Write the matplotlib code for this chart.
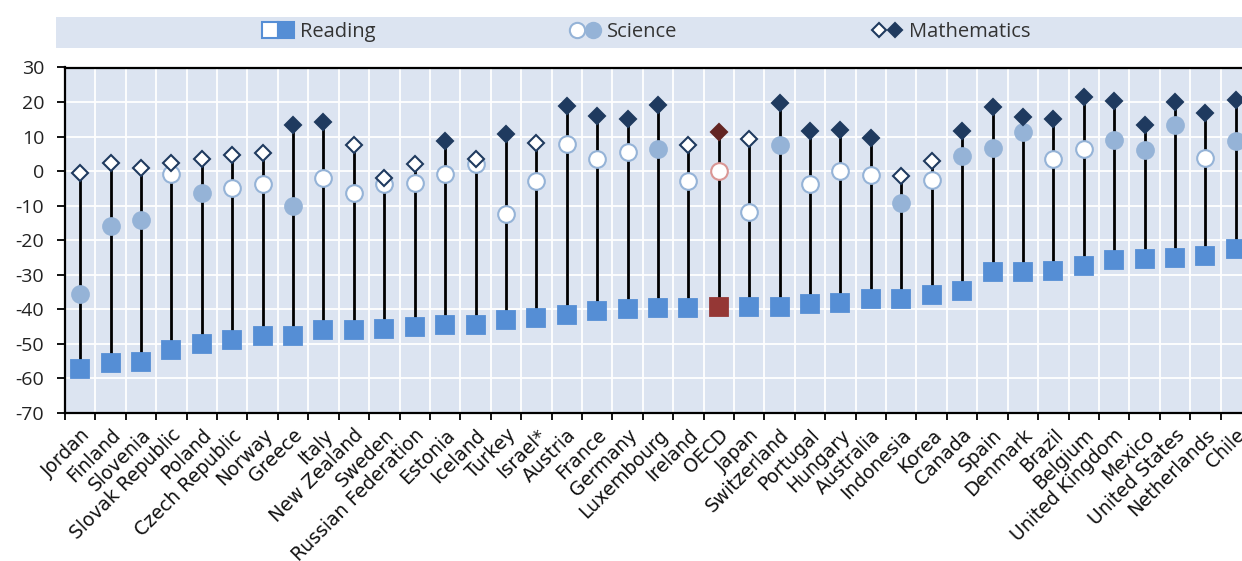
import numpy as np
import matplotlib
matplotlib.use("Agg")
import matplotlib.pyplot as plt
from matplotlib.lines import Line2D
from matplotlib.patches import Rectangle
from matplotlib.legend_handler import HandlerTuple

plt.rcParams["font.family"] = ["Open Sans", "DejaVu Sans"]
plt.rcParams["axes.unicode_minus"] = False
plt.rcParams["text.color"] = "#333333"

countries = [
    "Jordan", "Finland", "Slovenia", "Slovak Republic", "Poland", "Czech Republic",
    "Norway", "Greece", "Italy", "New Zealand", "Sweden", "Russian Federation",
    "Estonia", "Iceland", "Turkey", "Israel*", "Austria", "France", "Germany",
    "Luxembourg", "Ireland", "OECD", "Japan", "Switzerland", "Portugal", "Hungary",
    "Australia", "Indonesia", "Korea", "Canada", "Spain", "Denmark", "Brazil",
    "Belgium", "United Kingdom", "Mexico", "United States", "Netherlands", "Chile",
]
reading = [
    -57.3, -55.6, -55.2, -51.7, -50.1, -48.8, -47.7, -47.6, -46.1, -46.0, -45.8, -45.0,
    -44.5, -44.5, -43.1, -42.5, -41.5, -40.4, -40.0, -39.6, -39.5, -39.2, -39.3, -39.2,
    -38.4, -38.2, -37.0, -36.9, -35.9, -34.6, -29.3, -29.1, -28.9, -27.5, -25.6, -25.3,
    -25.1, -24.7, -22.4,
]
science = [
    -35.5, -15.9, -14.2, -0.7, -6.3, -4.9, -3.6, -10.1, -2.0, -6.4, -3.8, -3.3,
    -0.7, 2.0, -12.3, -2.8, 8.0, 3.4, 5.4, 6.5, -2.8, 0.0, -11.8, 7.5,
    -3.6, 0.0, -1.0, -9.2, -2.6, 4.3, 6.8, 11.2, 3.4, 6.4, 9.1, 6.2,
    13.3, 3.8, 8.7,
]
math = [
    -0.6, 2.5, 1.0, 2.5, 3.6, 4.6, 5.2, 13.4, 14.3, 7.6, -2.1, 2.0,
    8.6, 3.6, 10.7, 8.1, 18.9, 15.9, 15.2, 19.1, 7.6, 11.4, 9.3, 19.6,
    11.6, 11.9, 9.5, -1.5, 3.0, 11.7, 18.6, 15.7, 15.2, 21.4, 20.3, 13.3,
    20.1, 16.8, 20.6,
]
# 1 = statistically significant (filled marker), 0 = not significant (hollow)
science_sig = [
    1, 1, 1, 0, 1, 0, 0, 1, 0, 0, 0, 0,
    0, 0, 0, 0, 0, 0, 0, 1, 0, 0, 0, 1,
    0, 0, 0, 1, 0, 1, 1, 1, 0, 0, 1, 1,
    1, 0, 1,
]
math_sig = [
    0, 0, 0, 0, 0, 0, 0, 1, 1, 0, 0, 0,
    1, 0, 1, 0, 1, 1, 1, 1, 0, 1, 0, 1,
    1, 1, 1, 0, 0, 1, 1, 1, 1, 1, 1, 1,
    1, 1, 1,
]

c_read = "#558ED5"
c_sci = "#95B3D7"
c_math = "#1F3A5F"
c_bg = "#DCE4F1"
oecd_read, oecd_sci, oecd_math = "#953735", "#DA9694", "#632523"

x = np.arange(len(countries))
reading = np.array(reading)
science = np.array(science)
math = np.array(math)
science_sig = np.array(science_sig, dtype=bool)
math_sig = np.array(math_sig, dtype=bool)
is_oecd = np.array([c == "OECD" for c in countries])
top = np.maximum(science, math)

fig = plt.figure(figsize=(12.42, 5.61), dpi=100)
ax = fig.add_axes([65 / 1242, 1 - 413 / 561, 1186 / 1242, 345.5 / 561])
ax.set_facecolor(c_bg)

ax.vlines(x, reading, top, color="black", lw=2, zorder=2)

sq = dict(marker="s", ms=12.3, ls="none", mew=1.3, zorder=3)
ci = dict(marker="o", ms=12, ls="none", mew=1.5, zorder=4)
di = dict(marker="D", ms=8.6, ls="none", mew=1.5, zorder=5)

m = ~is_oecd
ax.plot(x[m], reading[m], mfc=c_read, mec=c_read, **sq)
ax.plot(x[m & science_sig], science[m & science_sig], mfc=c_sci, mec=c_sci, **ci)
ax.plot(x[m & ~science_sig], science[m & ~science_sig], mfc="white", mec=c_sci, **ci)
ax.plot(x[m & math_sig], math[m & math_sig], mfc=c_math, mec=c_math, **di)
ax.plot(x[m & ~math_sig], math[m & ~math_sig], mfc="white", mec=c_math, **di)

# OECD average in red tones
ax.plot(x[is_oecd], reading[is_oecd], mfc=oecd_read, mec=oecd_read, **sq)
ax.plot(x[is_oecd], science[is_oecd], mfc="white", mec=oecd_sci, **ci)
ax.plot(x[is_oecd], math[is_oecd], mfc=oecd_math, mec=oecd_math, **di)

ax.set_xlim(-0.5, len(countries) - 0.5)
ax.set_ylim(-70, 30)
ax.set_yticks(np.arange(-70, 31, 10))
ax.set_xticks(x)
ax.set_xticks(np.arange(-0.5, len(countries), 1), minor=True)
ax.set_xticklabels(countries, rotation=45, ha="right", rotation_mode="anchor",
                   fontsize=13.5, color="#111111", family="DejaVu Sans")
ax.tick_params(axis="x", which="major", length=0, pad=9)
ax.tick_params(axis="x", which="minor", length=5, width=1.3, color="black")
ax.tick_params(axis="y", length=6, width=1.3, pad=9, labelsize=14,
               labelcolor="#222222")
ax.grid(axis="y", which="major", color="white", lw=1.3)
ax.grid(axis="x", which="minor", color="white", lw=1.3)
ax.set_axisbelow(True)
for side in ["left", "bottom", "top"]:
    ax.spines[side].set_color("black")
    ax.spines[side].set_linewidth(1.6)
ax.spines["right"].set_visible(False)

# legend band
fig.patches.append(Rectangle((56 / 1242, 1 - 48 / 561), 1 - 56 / 1242, 31 / 561,
                             transform=fig.transFigure, facecolor=c_bg,
                             edgecolor="none", zorder=0))
lk = dict(ls="none", mew=1.5)
h_read = (Line2D([], [], marker="s", ms=11, mfc="white", mec=c_read, **lk),
          Line2D([], [], marker="s", ms=11, mfc=c_read, mec=c_read, **lk))
h_sci = (Line2D([], [], marker="o", ms=11, mfc="white", mec=c_sci, **lk),
         Line2D([], [], marker="o", ms=11, mfc=c_sci, mec=c_sci, **lk))
h_math = (Line2D([], [], marker="D", ms=7.5, mfc="white", mec=c_math, **lk),
          Line2D([], [], marker="D", ms=7.5, mfc=c_math, mec=c_math, **lk))
fig.legend([h_read, h_sci, h_math], ["Reading", "Science", "Mathematics"],
           handler_map={tuple: HandlerTuple(ndivide=None, pad=0)},
           loc="center", bbox_to_anchor=(646 / 1242, 1 - 32 / 561), ncol=3,
           frameon=False, fontsize=14.5, handlelength=1.6, handletextpad=0.3,
           columnspacing=9.6, borderpad=0)

fig.savefig("out.png", dpi=100)
